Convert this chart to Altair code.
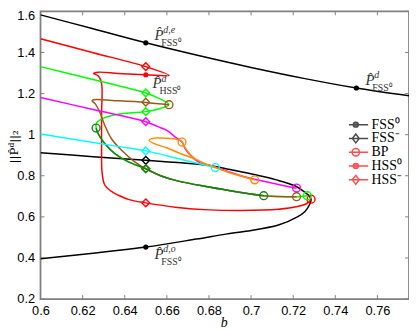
import altair as alt
import pandas as pd

# ---------------- data ----------------
# black upper FSS0 branch (P^{d,e})
blk_e_b = [0.6, 0.625, 0.65, 0.675, 0.7, 0.725, 0.75, 0.775]
blk_e_p = [1.583, 1.515, 1.447, 1.385, 1.327, 1.274, 1.227, 1.189]
# black folded branch (FSS0 lower / FSS- upper)
blk_f_b = [0.6, 0.625, 0.65, 0.665, 0.679, 0.69, 0.702, 0.712, 0.721, 0.7255, 0.7278, 0.7285,
           0.7278, 0.7255, 0.722, 0.713, 0.6975, 0.688, 0.674, 0.65, 0.625, 0.6]
blk_f_p = [0.912, 0.893, 0.875, 0.864, 0.852, 0.830, 0.805, 0.780, 0.750, 0.720, 0.700, 0.683,
           0.660, 0.625, 0.600, 0.560, 0.530, 0.516, 0.492, 0.453, 0.423, 0.396]
# red HSS branch
red_b = [0.6, 0.625, 0.65, 0.661, 0.65, 0.637, 0.6275, 0.6252, 0.6275, 0.629, 0.629, 0.629,
         0.6292, 0.6305, 0.6335, 0.637, 0.642, 0.65, 0.665, 0.68, 0.695, 0.713, 0.722, 0.7265, 0.7285]
red_p = [1.467, 1.399, 1.331, 1.288, 1.2915, 1.298, 1.304, 1.298, 1.285, 1.25, 1.10, 0.95,
         0.82, 0.755, 0.725, 0.705, 0.684, 0.668, 0.646, 0.634, 0.631, 0.637, 0.650, 0.665, 0.684]
# lime branch
lime_b = [0.6, 0.625, 0.637, 0.65, 0.656, 0.661, 0.656, 0.65, 0.64, 0.6306, 0.6267, 0.6264,
          0.6275, 0.6306, 0.6353, 0.6415, 0.65, 0.657, 0.665, 0.68, 0.693, 0.706, 0.7216, 0.7267]
lime_p = [1.331, 1.268, 1.238, 1.203, 1.178, 1.146, 1.125, 1.112, 1.104, 1.083, 1.059, 1.032,
          1.003, 0.956, 0.908, 0.869, 0.834, 0.800, 0.775, 0.745, 0.722, 0.703, 0.698, 0.703]
# brown branch
brown_b = [0.661, 0.65, 0.637, 0.6252, 0.6245, 0.626, 0.6283, 0.6306, 0.6337, 0.6384, 0.6446,
           0.65, 0.657, 0.665, 0.68, 0.693, 0.706, 0.7216]
brown_p = [1.146, 1.157, 1.165, 1.170, 1.165, 1.150, 1.106, 1.043, 0.980, 0.925, 0.869,
           0.834, 0.800, 0.775, 0.745, 0.722, 0.703, 0.698]
# dark green branch
dgreen_b = [0.6264, 0.6275, 0.6306, 0.6353, 0.6415, 0.65, 0.657, 0.665, 0.68, 0.693, 0.706]
dgreen_p = [1.032, 1.003, 0.956, 0.908, 0.869, 0.834, 0.800, 0.775, 0.745, 0.722, 0.703]
# magenta branch
mag_b = [0.6, 0.625, 0.65, 0.6555, 0.6602, 0.664, 0.6672, 0.6687, 0.6718, 0.6757, 0.682,
         0.696, 0.7115, 0.7216]
mag_p = [1.181, 1.122, 1.063, 1.040, 1.0195, 0.988, 0.964, 0.932, 0.893, 0.863, 0.845,
         0.798, 0.761, 0.739]
# cyan branch
cyan_b = [0.6, 0.6368, 0.65, 0.668, 0.683]
cyan_p = [1.003, 0.943, 0.921, 0.877, 0.840]
# orange loop
orng_b = [0.7017, 0.699, 0.6913, 0.6835, 0.6788, 0.6726, 0.6664, 0.6602, 0.654, 0.6516, 0.654,
          0.6586, 0.6648, 0.6672, 0.6685, 0.671, 0.675, 0.681, 0.69, 0.70]
orng_p = [0.780, 0.787, 0.809, 0.837, 0.856, 0.885, 0.908, 0.935, 0.956, 0.972, 0.983,
          0.983, 0.977, 0.964, 0.940, 0.905, 0.872, 0.848, 0.815, 0.786]

curves = [
    ("black_e", "#000000", blk_e_b, blk_e_p),
    ("black_f", "#000000", blk_f_b, blk_f_p),
    ("red", "#ff0000", red_b, red_p),
    ("lime", "#00ff00", lime_b, lime_p),
    ("brown", "#9b5a1a", brown_b, brown_p),
    ("dgreen", "#1a801a", dgreen_b, dgreen_p),
    ("magenta", "#ff00ff", mag_b, mag_p),
    ("cyan", "#00ffff", cyan_b, cyan_p),
    ("orange", "#ff8c00", orng_b, orng_p),
]

# markers
dot_b = [0.65, 0.75, 0.65, 0.65]
dot_p = [1.447, 1.227, 0.453, 1.2915]
dot_c = ["#000000", "#000000", "#000000", "#ff0000"]

dia_b = [0.65, 0.65, 0.65, 0.65, 0.65, 0.65, 0.65, 0.65, 0.65, 0.65, 0.65]
dia_p = [1.331, 1.203, 1.158, 1.112, 1.063, 0.921, 0.875, 0.834, 0.834, 0.834, 0.668]
dia_c = ["#ff0000", "#00ff00", "#9b5a1a", "#00ff00", "#ff00ff", "#00ffff", "#000000",
         "#00ff00", "#9b5a1a", "#1a801a", "#ff0000"]

bp_b = [0.7285, 0.661, 0.6264, 0.6672, 0.683, 0.7017, 0.7216, 0.706, 0.7216, 0.7267]
bp_p = [0.686, 1.146, 1.032, 0.964, 0.840, 0.780, 0.740, 0.703, 0.698, 0.703]
bp_c = ["#ff0000", "#9b5a1a", "#1a801a", "#ff8c00", "#00ffff", "#ff8c00", "#ff00ff",
        "#1a801a", "#9b5a1a", "#00ff00"]

# annotations
ann_b = [0.6541, 0.6532, 0.7543, 0.6541]
ann_p = [1.462, 1.225, 1.2407, 0.3945]
ann_sup = ["d,e", "d", "d", "d,o"]
ann_sub = ["FSS\u2070", "HSS\u2070", "FSS\u2070", "FSS\u2070"]

# legend
leg_labels = ["FSS\u2070", "FSS\u207b", "BP", "HSS\u2070", "HSS\u207b"]
leg_colors = ["#000000", "#000000", "#ff0000", "#ff0000", "#ff0000"]
leg_fills = ["#000000", "transparent", "transparent", "#ff0000", "transparent"]
# symbol unit = 5 px (symbolSize 100)
DOT = "M-2.5,0H2.5M-0.5,0A0.5,0.5,0,1,0,0.5,0A0.5,0.5,0,1,0,-0.5,0Z"
DIA = "M-2.5,0H2.5M0,-0.9L0.7,0L0,0.9L-0.7,0Z"
CIR = "M-2.5,0H2.5M-0.75,0A0.75,0.75,0,1,0,0.75,0A0.75,0.75,0,1,0,-0.75,0Z"
leg_shapes = [DOT, DIA, CIR, DOT, DIA]

x_ticks = [0.6, 0.62, 0.64, 0.66, 0.68, 0.7, 0.72, 0.74, 0.76]
y_ticks = [0.2, 0.4, 0.6, 0.8, 1.0, 1.2, 1.4, 1.6]

# ---------------- chart ----------------
W, H = 374, 292
xs = alt.Scale(domain=[0.6, 0.775], nice=False, zero=False)
ys = alt.Scale(domain=[0.2, 1.6], nice=False, zero=False)
GRAY = "#808080"

xaxis = alt.Axis(values=x_ticks, format=".2~f", ticks=False, tickSize=0, domain=False,
                 grid=False, labelFont="Liberation Sans", labelFontSize=13, labelColor="black",
                 labelPadding=6, labelFlush=False, labelOverlap=False,
                 title="b", titleFont="Liberation Serif", titleFontStyle="italic",
                 titleFontWeight="normal", titleFontSize=14, titleColor="black",
                 titleX=186, titleY=28, titleBaseline="alphabetic", titleAlign="center")
yaxis = alt.Axis(values=y_ticks, format=".1~f", ticks=False, tickSize=0, domain=False,
                 grid=False, labelFont="Liberation Sans", labelFontSize=13, labelColor="black",
                 labelPadding=6, labelFlush=False, labelOverlap=False,
                 labelOffset={"expr": "datum.value > 1.59 ? 4 : 0"},
                 title="||P\u0302\u1d48||\u2082", titleFont="DejaVu Serif",
                 titleFontWeight="normal", titleFontSize=12, titleColor="black",
                 titleX=-27, titleY=137, titleAngle=270, titleAlign="center",
                 titleBaseline="middle")


def X(f="b"):
    return alt.X(f"{f}:Q", scale=xs, axis=xaxis)


def Y(f="p"):
    return alt.Y(f"{f}:Q", scale=ys, axis=yaxis)


layers = []

# inward ticks
xt = pd.DataFrame({"b": x_ticks})
yt = pd.DataFrame({"p": y_ticks})
layers.append(alt.Chart(xt).mark_rule(color=GRAY, strokeWidth=1).encode(
    x=X(), y=alt.value(H), y2=alt.value(H - 4)))
layers.append(alt.Chart(xt).mark_rule(color=GRAY, strokeWidth=1).encode(
    x=X(), y=alt.value(0), y2=alt.value(4)))
layers.append(alt.Chart(yt).mark_rule(color=GRAY, strokeWidth=1).encode(
    y=Y(), x=alt.value(0), x2=alt.value(4)))
layers.append(alt.Chart(yt).mark_rule(color=GRAY, strokeWidth=1).encode(
    y=Y(), x=alt.value(W), x2=alt.value(W - 4)))

# curves
for name, col, bb, pp in curves:
    df = pd.DataFrame({"b": bb, "p": pp, "i": list(range(len(bb)))})
    layers.append(alt.Chart(df).mark_line(color=col, strokeWidth=1.5, interpolate="catmull-rom",
                                          clip=True).encode(
        x=X(), y=Y(), order="i:Q"))

# markers
ddf = pd.DataFrame({"b": dot_b, "p": dot_p, "c": dot_c})
layers.append(alt.Chart(ddf).mark_point(filled=True, size=28, opacity=1).encode(
    x=X(), y=Y(), color=alt.Color("c:N", scale=None)))
dia = pd.DataFrame({"b": dia_b, "p": dia_p, "c": dia_c})
layers.append(alt.Chart(dia).mark_point(shape="diamond", filled=False, size=62, strokeWidth=1.4,
                                        opacity=1).encode(
    x=X(), y=Y(), color=alt.Color("c:N", scale=None)))
bp = pd.DataFrame({"b": bp_b, "p": bp_p, "c": bp_c})
layers.append(alt.Chart(bp).mark_point(shape="circle", filled=False, size=64, strokeWidth=1.4,
                                       opacity=1).encode(
    x=X(), y=Y(), color=alt.Color("c:N", scale=None)))

# annotations
adf = pd.DataFrame({"b": ann_b, "p": ann_p, "sup": ann_sup, "sub": ann_sub,
                    "P": ["P\u0302"] * len(ann_b)})
TXT = "#333333"
layers.append(alt.Chart(adf).mark_text(align="left", baseline="alphabetic", font="Liberation Serif",
                                       fontStyle="italic", fontSize=15, color=TXT).encode(
    x=X(), y=Y(), text="P:N"))
layers.append(alt.Chart(adf).mark_text(align="left", baseline="alphabetic", font="Liberation Serif",
                                       fontStyle="italic", fontSize=10, color=TXT, dx=9, dy=-7).encode(
    x=X(), y=Y(), text="sup:N"))
layers.append(alt.Chart(adf).mark_text(align="left", baseline="alphabetic", font="Liberation Serif",
                                       fontSize=10, color=TXT, dx=7, dy=6).encode(
    x=X(), y=Y(), text="sub:N"))

# legend carrier (points outside domain, clipped)
L = alt.Legend(title=None, orient="none", legendX=313, legendY=108, symbolSize=100,
               symbolStrokeWidth=1.5, labelFont="Liberation Serif", labelFontSize=14,
               labelColor="black", labelOffset=9, rowPadding=0, clipHeight=14, padding=0)
ldf = pd.DataFrame({"lg": leg_labels, "b": [0.9] * 5, "p": [0.5] * 5})
layers.append(alt.Chart(ldf).mark_point(clip=True, strokeWidth=1.5).encode(
    x=X(), y=Y(),
    shape=alt.Shape("lg:N", scale=alt.Scale(domain=leg_labels, range=leg_shapes), legend=L),
    stroke=alt.Stroke("lg:N", scale=alt.Scale(domain=leg_labels, range=leg_colors), legend=L),
    fill=alt.Fill("lg:N", scale=alt.Scale(domain=leg_labels, range=leg_fills), legend=L),
))

chart = alt.layer(*layers).properties(
    width=W, height=H,
    autosize=alt.AutoSizeParams(type="none"),
    padding={"left": 33, "top": 1, "right": 0, "bottom": 29},
).configure_view(stroke=GRAY, strokeWidth=1.8)

chart.save("out.html", embed_options={"renderer": "svg", "actions": False})
